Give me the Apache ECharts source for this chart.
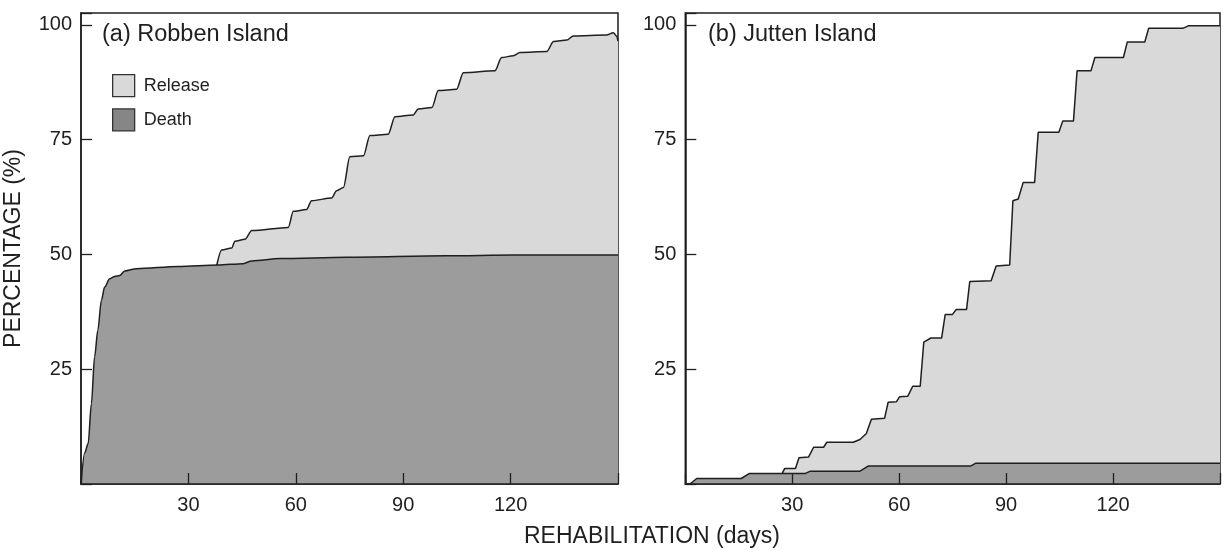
<!DOCTYPE html>
<html>
<head>
  <meta charset="utf-8">
  <title>Rehabilitation outcome</title>
  <script src="https://cdn.jsdelivr.net/npm/echarts@6/dist/echarts.min.js"></script>
  <style>
    html, body {
      margin: 0;
      padding: 0;
      background: #fff;
    }

    #chart {
      width: 1223px;
      height: 550px;
    }
  </style>
</head>
<body>
<div id="chart"></div>
<script>
  // panel titles and tick values
  var panelTitles = ['(a) Robben Island', '(b) Jutten Island'];
  var xTicks = [30, 60, 90, 120];
  var yTicks = [25, 50, 75, 100];

  // Robben Island: cumulative death, and cumulative death + release (days, %)
  var robbenDeath = [[0, 0], [1.0, 6.7], [2.0, 8.8], [2.9, 17.5], [3.8, 27.7], [4.7, 33.5], [5.7, 40.0],
    [6.6, 42.9], [8.0, 44.7], [9.4, 45.2], [10.8, 45.4], [12.2, 46.4], [15.5, 46.9], [27.1, 47.4],
    [38.3, 47.7], [45.3, 48.0], [47.7, 48.6], [55.6, 49.1], [74.2, 49.4], [102, 49.7], [120.8, 49.9], [150, 49.9]];
  var robbenRelease = [[37.9, 47.6], [39.3, 51.0], [42.1, 51.4], [43.0, 52.9], [45.8, 53.3], [47.7, 55.2],
    [57.9, 55.9], [59.3, 59.4], [63.0, 59.8], [64.4, 61.7], [70.0, 62.3], [71.4, 63.9], [73.3, 64.6],
    [75.1, 71.3], [78.9, 71.5], [80.7, 75.9], [85.8, 76.2], [87.7, 80.0], [92.8, 80.4], [94.2, 81.7],
    [98.0, 82.0], [99.8, 85.7], [104.9, 86.0], [106.8, 89.6], [115.6, 90.0], [117.5, 92.9], [120.8, 93.3],
    [122.6, 94.0], [130.1, 94.2], [132.0, 96.4], [135.7, 96.7], [137.5, 97.6], [146.8, 97.8], [148.7, 98.3],
    [149.6, 97.6], [150, 96.5]];

  // Jutten Island
  var juttenDeath = [[0, 0], [1.3, 0], [3.2, 1.2], [15.7, 1.2], [18.0, 2.3], [33.7, 2.3], [35.1, 2.8],
    [49.0, 2.8], [51.3, 3.9], [80.0, 3.9], [81.4, 4.5], [150, 4.5]];
  var juttenRelease = [[27.2, 2.3], [27.9, 3.4], [30.9, 3.4], [31.9, 5.7], [34.6, 5.9], [36.0, 8.0],
    [38.8, 8.0], [39.7, 9.1], [47.1, 9.1], [49.0, 9.7], [50.8, 11.0], [52.2, 14.1], [55.9, 14.3],
    [56.9, 17.8], [59.2, 17.9], [60.1, 19.0], [62.4, 19.1], [63.8, 21.3], [65.9, 21.3], [66.9, 30.9],
    [68.9, 31.8], [71.9, 31.8], [72.9, 36.9], [74.9, 36.9], [76.0, 38.0], [78.9, 38.0], [79.8, 44.1],
    [85.8, 44.3], [87.2, 47.5], [91.0, 47.7], [91.9, 61.7], [93.4, 62.1], [94.8, 65.7], [98.0, 65.7],
    [99.0, 76.6], [104.8, 76.6], [105.9, 79.1], [108.9, 79.1], [109.9, 90.0], [113.8, 90.0], [114.9, 92.9],
    [122.9, 92.9], [124.0, 96.3], [128.9, 96.3], [130.0, 99.3], [139.7, 99.3], [141.1, 99.8], [150, 99.8]];

  var FONT = 'Liberation Sans, Arial, sans-serif';
  var INK = '#1f1f1f';
  var RELEASE_FILL = '#d9d9d9';
  var DEATH_FILL = '#9c9c9c';

  var chart = echarts.init(document.getElementById('chart'), null, {renderer: 'canvas'});

  function xAxisFor(i) {
    return {
      type: 'value', gridIndex: i, min: 0, max: 150, interval: 30, z: 10,
      axisLine: {show: true, lineStyle: {color: INK, width: 1.5}},
      axisTick: {show: true, inside: true, length: 11, lineStyle: {color: INK, width: 1.3}},
      axisLabel: {
        color: INK, fontFamily: FONT, fontSize: 20, margin: 11,
        formatter: function (v) { return xTicks.indexOf(v) >= 0 ? String(v) : ''; }
      },
      splitLine: {show: false}
    };
  }

  function yAxisFor(i) {
    return {
      type: 'value', gridIndex: i, min: 0, max: 102.6, interval: 25, z: 10,
      name: i === 0 ? 'PERCENTAGE (%)' : '',
      nameLocation: 'middle', nameGap: 56,
      nameTextStyle: {color: INK, fontFamily: FONT, fontSize: 23},
      axisLine: {show: true, lineStyle: {color: INK, width: 1.5}},
      axisTick: {show: true, inside: true, length: 11, lineStyle: {color: INK, width: 1.3}},
      axisLabel: {
        color: INK, fontFamily: FONT, fontSize: 20, margin: 9,
        formatter: function (v) { return yTicks.indexOf(v) >= 0 ? String(v) : ''; }
      },
      splitLine: {show: false}
    };
  }

  function areaSeries(name, data, gridIdx, fill, smooth, z) {
    return {
      name: name, type: 'line', xAxisIndex: gridIdx, yAxisIndex: gridIdx,
      data: data, showSymbol: false, symbol: 'none', z: z,
      smooth: smooth, smoothMonotone: 'x',
      color: fill,
      lineStyle: {color: INK, width: 1.5},
      areaStyle: {color: fill, opacity: 1},
      silent: true, animation: false
    };
  }

  var option = {
    animation: false,
    grid: [
      {left: 81, top: 13, width: 537, height: 471, show: true, borderColor: INK, borderWidth: 1.5},
      {left: 685.3, top: 13, width: 540, height: 471, show: true, borderColor: INK, borderWidth: 1.5}
    ],
    xAxis: [xAxisFor(0), xAxisFor(1)],
    yAxis: [yAxisFor(0), yAxisFor(1)],
    legend: {
      orient: 'vertical', left: 107, top: 69,
      itemWidth: 22, itemHeight: 22, itemGap: 11, icon: 'rect',
      textStyle: {color: INK, fontFamily: FONT, fontSize: 18, padding: [0, 0, 0, 4]},
      selectedMode: false,
      data: [
        {name: 'Release', itemStyle: {color: RELEASE_FILL, borderColor: '#333', borderWidth: 1.3}},
        {name: 'Death', itemStyle: {color: '#868686', borderColor: '#333', borderWidth: 1.3}}
      ]
    },
    graphic: [
      {type: 'text', left: 102, top: 23, z: 20,
        style: {text: panelTitles[0], fill: INK, font: '23.5px ' + FONT}},
      {type: 'text', left: 708, top: 23, z: 20,
        style: {text: panelTitles[1], fill: INK, font: '23.5px ' + FONT}},
      {type: 'text', x: 652, y: 537, z: 20,
        style: {text: 'REHABILITATION (days)', fill: INK, font: '23px ' + FONT,
          textAlign: 'center', textVerticalAlign: 'middle'}}
    ],
    series: [
      areaSeries('Release', robbenRelease, 0, RELEASE_FILL, 0.3, 2),
      areaSeries('Death', robbenDeath, 0, DEATH_FILL, 0.3, 3),
      areaSeries('Release', juttenRelease, 1, RELEASE_FILL, false, 2),
      areaSeries('Death', juttenDeath, 1, DEATH_FILL, false, 3)
    ]
  };

  chart.setOption(option);

  window.onresize = function () {
    chart.resize();
  };
</script>
</body>
</html>
